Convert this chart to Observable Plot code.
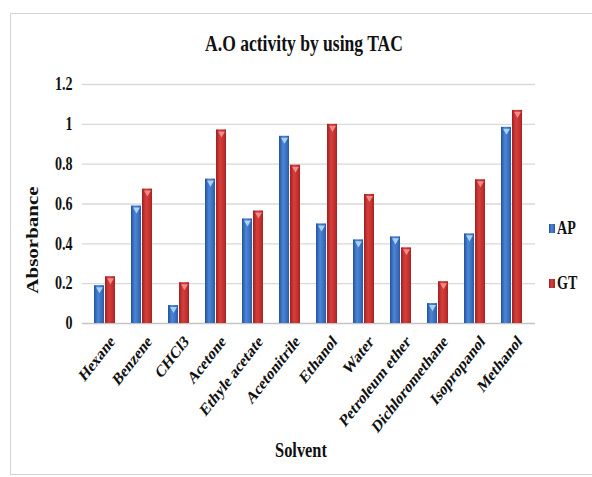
<!DOCTYPE html>
<html>
<head>
<meta charset="utf-8">
<script src="https://cdn.jsdelivr.net/npm/d3@7"></script>
<script src="https://cdn.jsdelivr.net/npm/@observablehq/plot@0.6"></script>
<style>
  html, body { margin: 0; padding: 0; background: #fff; }
  #wrap { position: relative; width: 592px; height: 477px; overflow: hidden; font-family: "Liberation Serif", "Times New Roman", serif; }
  #frame { position: absolute; left: 10px; top: 13px; width: 640px; height: 462px; border: 1.5px solid #d4d4d4; box-sizing: border-box; }
  .lbl { position: absolute; font-weight: bold; color: #111; white-space: nowrap; line-height: 1; }
  #chart { position: absolute; left: 0; top: 0; }
  .sw { position: absolute; width: 6px; height: 9px; }
</style>
</head>
<body>
<div id="wrap">
  <div id="frame"></div>
  <div id="chart"></div>
</div>
<script>
const solvents = ["Hexane", "Benzene", "CHCl3", "Acetone", "Ethyle acetate", "Acetonitrile", "Ethanol", "Water", "Petroleum ether", "Dichloromethane", "Isopropanol", "Methanol"];
const apValues = [0.19, 0.59, 0.09, 0.725, 0.525, 0.94, 0.50, 0.42, 0.435, 0.10, 0.45, 0.985];
const gtValues = [0.235, 0.675, 0.205, 0.972, 0.565, 0.795, 1.00, 0.648, 0.38, 0.21, 0.722, 1.07];
const seriesNames = ["AP", "GT"];
const yTicks = [0, 0.2, 0.4, 0.6, 0.8, 1, 1.2];
const titleText = "A.O activity by using TAC";
const yLabel = "Absorbance";
const xLabel = "Solvent";

const SQ = 0.78; // horizontal squeeze of the reference's text

const apRows = solvents.map((s, i) => ({solvent: s, value: apValues[i], series: seriesNames[0]}));
const gtRows = solvents.map((s, i) => ({solvent: s, value: gtValues[i], series: seriesNames[1]}));

const chart = Plot.plot({
  width: 592,
  height: 477,
  marginLeft: 82,
  marginRight: 57,
  marginTop: 84,
  marginBottom: 154,
  x: {domain: solvents, paddingInner: 0.42, paddingOuter: 0.21, axis: null},
  y: {domain: [0, 1.2]},
  style: {fontFamily: "'Liberation Serif', 'Times New Roman', serif", background: "transparent", overflow: "visible", color: "#111"},
  marks: [
    Plot.ruleY(yTicks.filter(d => d > 0), {stroke: "#d9d9d9", strokeWidth: 1.3}),
    Plot.ruleY([0], {stroke: "#c4c4c4", strokeWidth: 1.6}),
    Plot.barY(apRows, {x: "solvent", y: "value", fill: "url(#gradAP)", insetRight: 11}),
    Plot.barY(gtRows, {x: "solvent", y: "value", fill: "url(#gradGT)", insetLeft: 11}),
    Plot.dot(apRows, {x: "solvent", y: "value", dx: -5.5, dy: 3.5, symbol: "triangle", rotate: 180, r: 2.6, fill: "#a8d4fb", stroke: "none"}),
    Plot.dot(gtRows, {x: "solvent", y: "value", dx: 5.5, dy: 3.5, symbol: "triangle", rotate: 180, r: 2.6, fill: "#f28a8a", stroke: "none"}),
    Plot.axisY({ticks: yTicks, tickFormat: d => `${d}`, tickSize: 0, tickPadding: 10, fontSize: 18, fontWeight: "bold", label: null}),
    Plot.text(solvents, {x: d => d, frameAnchor: "bottom", text: d => d, textAnchor: "end", lineAnchor: "middle", fontSize: 17.5, fontWeight: "bold", fill: "#111"})
  ]
});

document.getElementById("chart").appendChild(chart);

const svg = d3.select(chart);
svg.insert("defs", ":first-child").html(`
  <linearGradient id="gradAP" x1="0" x2="1" y1="0" y2="0">
    <stop offset="0" stop-color="#24529b"/>
    <stop offset="0.4" stop-color="#4b86d8"/>
    <stop offset="0.75" stop-color="#3a70c0"/>
    <stop offset="1" stop-color="#2a5aa6"/>
  </linearGradient>
  <linearGradient id="gradGT" x1="0" x2="1" y1="0" y2="0">
    <stop offset="0" stop-color="#9e2020"/>
    <stop offset="0.4" stop-color="#d6403c"/>
    <stop offset="0.75" stop-color="#c4302d"/>
    <stop offset="1" stop-color="#a42424"/>
  </linearGradient>
`);

const xs = chart.scale("x");
const xLabelY = 323 + 15;
const yTickStrings = yTicks.map(d => `${d}`);
svg.selectAll("text").each(function() {
  const s = this.textContent;
  const k = solvents.indexOf(s);
  if (k >= 0) {
    // x tick labels: rotate -45°, then squeeze horizontally in image space
    const cx = xs.apply(s) + xs.bandwidth / 2 - 3;
    this.setAttribute("transform", `translate(${cx},${xLabelY}) scale(${SQ},1) rotate(-45)`);
  } else if (yTickStrings.includes(s)) {
    const t = this.getAttribute("transform");
    if (t && /^translate\(/.test(t) && !/scale/.test(t)) {
      this.setAttribute("transform", t.replace(/^(translate\([^)]*\))/, `$1 scale(${SQ},1)`));
    }
  }
});

const wrap = document.getElementById("wrap");
function addLabel(text, fs, cx, baseline, opts = {}) {
  const d = document.createElement("div");
  d.className = "lbl";
  d.textContent = text;
  d.style.fontSize = fs + "px";
  if (opts.rotate) {
    d.style.left = cx + "px";
    d.style.top = baseline + "px";
    d.style.transform = `translate(-50%,-50%) scaleX(${SQ}) rotate(-90deg)`;
  } else if (opts.left) {
    d.style.left = cx + "px";
    d.style.top = (baseline - 0.8375 * fs) + "px";
    d.style.transformOrigin = "0 50%";
    d.style.transform = `scaleX(${SQ})`;
  } else {
    d.style.left = cx + "px";
    d.style.top = (baseline - 0.8375 * fs) + "px";
    d.style.transform = `translateX(-50%) scaleX(${SQ})`;
  }
  wrap.appendChild(d);
  return d;
}
addLabel(titleText, 22.5, 304, 52);
addLabel(yLabel, 21, 33, 240, {rotate: true});
addLabel(xLabel, 21, 301, 458);

// legend
const legendY = [228, 283];
const legendFill = ["linear-gradient(90deg,#24529b,#4b86d8 45%,#2a5aa6)", "linear-gradient(90deg,#9e2020,#d6403c 45%,#a42424)"];
seriesNames.forEach((name, i) => {
  const sw = document.createElement("div");
  sw.className = "sw";
  sw.style.left = "549px";
  sw.style.top = (legendY[i] - 4) + "px";
  sw.style.background = legendFill[i];
  wrap.appendChild(sw);
  addLabel(name, 18, 557, legendY[i] + 6, {left: true});
});
</script>
</body>
</html>
